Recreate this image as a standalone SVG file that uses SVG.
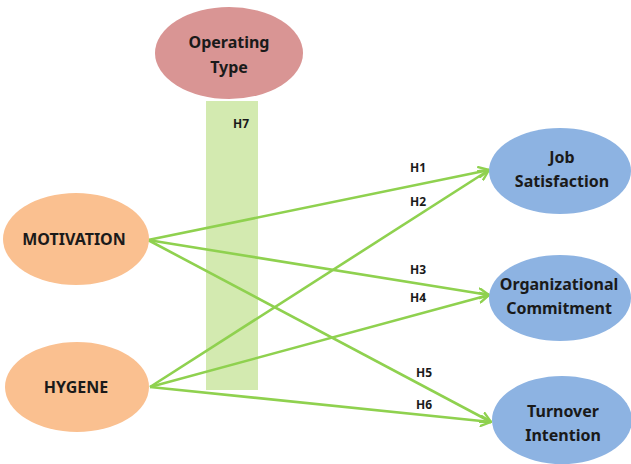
<svg xmlns="http://www.w3.org/2000/svg" width="631" height="464" viewBox="0 0 631 464">
<style>
.t{font-family:"Noto Sans","Liberation Sans",sans-serif;font-weight:bold;fill:#1a1a1a;text-anchor:middle}
.n{font-size:16px}
.h{font-size:12px}
.e{stroke:none}
.c{stroke:#8fd14f;stroke-width:2.6;fill:none}
</style>
<defs>
<marker id="ah" viewBox="0 0 12 12" refX="11" refY="6" markerWidth="12" markerHeight="12" markerUnits="userSpaceOnUse" orient="auto">
<path d="M1,1 L11,6 L1,11" fill="none" stroke="#8fd14f" stroke-width="2.4" stroke-linecap="round" stroke-linejoin="round"/>
</marker>
</defs>
<rect id="bar" x="206" y="101" width="52" height="289" fill="#d3eab0"/>
<g id="connectors" class="c" marker-end="url(#ah)">
<line x1="148" y1="240" x2="489" y2="170"/>
<line x1="150" y1="387" x2="489" y2="170"/>
<line x1="148" y1="240" x2="489" y2="295"/>
<line x1="150" y1="387" x2="489" y2="295"/>
<line x1="148" y1="240" x2="491" y2="422"/>
<line x1="150" y1="387" x2="491" y2="422"/>
</g>
<g id="labels" class="t h">
<text x="418" y="172">H1</text>
<text x="418" y="206">H2</text>
<text x="418" y="274">H3</text>
<text x="418" y="302">H4</text>
<text x="424" y="377">H5</text>
<text x="424" y="409">H6</text>
<text x="241" y="128">H7</text>
</g>
<g id="operating">
<ellipse class="e" cx="229" cy="53" rx="74" ry="46" fill="#d99594"/>
<text class="t n" x="229" y="48">Operating</text>
<text class="t n" x="229" y="73">Type</text>
</g>
<g id="motivation">
<ellipse class="e" cx="76" cy="239" rx="73" ry="46" fill="#fac090"/>
<text class="t n" x="74" y="245">MOTIVATION</text>
</g>
<g id="hygene">
<ellipse class="e" cx="77" cy="387" rx="72" ry="45" fill="#fac090"/>
<text class="t n" x="76" y="393">HYGENE</text>
</g>
<g id="job">
<ellipse class="e" cx="560" cy="171" rx="71" ry="43" fill="#8db3e2"/>
<text class="t n" x="562" y="163">Job</text>
<text class="t n" x="562" y="187">Satisfaction</text>
</g>
<g id="org">
<ellipse class="e" cx="560" cy="298" rx="71" ry="43" fill="#8db3e2"/>
<text class="t n" x="559" y="290">Organizational</text>
<text class="t n" x="559" y="314">Commitment</text>
</g>
<g id="turnover">
<ellipse class="e" cx="562" cy="420" rx="70" ry="44" fill="#8db3e2"/>
<text class="t n" x="563" y="417">Turnover</text>
<text class="t n" x="563" y="441">Intention</text>
</g>
</svg>
